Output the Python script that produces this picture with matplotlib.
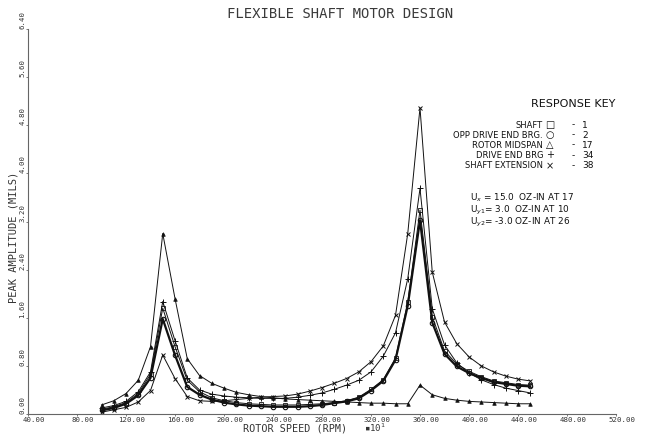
import matplotlib
matplotlib.use("Agg")
import matplotlib.pyplot as plt
from matplotlib.transforms import ScaledTranslation

# rotor speed (RPM x 10)
speed = [100, 110, 120, 130, 140, 150, 160, 170, 180, 190, 200, 210,
         220, 230, 240, 250, 260, 270, 280, 290, 300, 310, 320, 330,
         340, 350, 360, 370, 380, 390, 400, 410, 420, 430, 440, 450]

# peak amplitude (mils) per station
shaft = [0.08, 0.12, 0.19, 0.34, 0.66, 1.76, 1.12, 0.56, 0.37, 0.27, 0.22, 0.19,
         0.17, 0.16, 0.15, 0.15, 0.15, 0.16, 0.17, 0.19, 0.22, 0.28, 0.41, 0.57,
         0.93, 1.86, 3.39, 1.62, 1.05, 0.83, 0.71, 0.62, 0.55, 0.52, 0.49, 0.48]
opp_drive = [0.06, 0.10, 0.17, 0.31, 0.60, 1.58, 0.98, 0.45, 0.32, 0.24, 0.19, 0.16,
             0.14, 0.13, 0.12, 0.12, 0.12, 0.13, 0.15, 0.18, 0.21, 0.26, 0.39, 0.55,
             0.90, 1.80, 3.22, 1.52, 1.00, 0.79, 0.68, 0.60, 0.53, 0.50, 0.47, 0.46]
rotor_mid = [0.15, 0.22, 0.34, 0.56, 1.12, 3.00, 1.92, 0.92, 0.64, 0.51, 0.43, 0.36,
             0.32, 0.29, 0.27, 0.25, 0.24, 0.23, 0.22, 0.21, 0.20, 0.19, 0.18, 0.18,
             0.17, 0.17, 0.48, 0.32, 0.26, 0.23, 0.21, 0.20, 0.19, 0.18, 0.17, 0.17]
drive_end = [0.10, 0.14, 0.21, 0.37, 0.70, 1.87, 1.22, 0.60, 0.40, 0.33, 0.30, 0.28,
             0.27, 0.26, 0.26, 0.26, 0.28, 0.31, 0.35, 0.41, 0.48, 0.56, 0.70, 0.96,
             1.35, 2.25, 3.75, 1.75, 1.15, 0.85, 0.68, 0.57, 0.49, 0.43, 0.39, 0.35]
shaft_ext = [0.03, 0.07, 0.11, 0.20, 0.39, 0.98, 0.59, 0.29, 0.22, 0.21, 0.22, 0.24,
             0.26, 0.28, 0.29, 0.30, 0.33, 0.38, 0.44, 0.51, 0.59, 0.70, 0.87, 1.13,
             1.64, 3.00, 5.09, 2.36, 1.53, 1.17, 0.95, 0.80, 0.70, 0.63, 0.58, 0.55]

xticks = [40, 80, 120, 160, 200, 240, 280, 320, 360, 400, 440, 480, 520]
yticks = [0.0, 0.8, 1.6, 2.4, 3.2, 4.0, 4.8, 5.6, 6.4]

key_names = ["SHAFT", "OPP DRIVE END BRG.", "ROTOR MIDSPAN", "DRIVE END BRG", "SHAFT EXTENSION"]
key_syms = ["\u25a1", "\u25cb", "\u25b3", "+", "\u00d7"]
key_nums = ["1", "2", "17", "34", "38"]

mono = "DejaVu Sans Mono"
ink = "#111111"

fig = plt.figure(figsize=(6.55, 4.34), dpi=100)
ax = fig.add_axes([28/655, 20/434, 588/655, 385/434])

ax.plot(speed, shaft, color=ink, lw=0.7, marker="s", ms=3, mfc="none", mew=0.6)
ax.plot(speed, opp_drive, color=ink, lw=1.6, marker="o", ms=3.2, mfc="none", mew=0.8)
ax.plot(speed, rotor_mid, color=ink, lw=0.7, marker="^", ms=2.6, mew=0.5)
ax.plot(speed, drive_end, color=ink, lw=0.7, marker="+", ms=4, mew=0.7)
ax.plot(speed, shaft_ext, color=ink, lw=0.7, marker="x", ms=3.2, mew=0.7)

ax.set_xlim(40, 520)
ax.set_ylim(0, 6.4)
for s in ["top", "right"]:
    ax.spines[s].set_visible(False)
for s in ["left", "bottom"]:
    ax.spines[s].set_color("#666666")
    ax.spines[s].set_linewidth(0.8)

ax.set_xticks(xticks)
ax.set_xticklabels(["%.2f" % v for v in xticks], fontsize=5.3, family=mono, color="#333333")
ax.set_yticks(yticks)
ax.set_yticklabels(["%.2f" % v for v in yticks], fontsize=5.3, family=mono, color="#333333")
ax.tick_params(direction="out", length=1.5, width=0.6, color="#666666", pad=0.5)

shift = ScaledTranslation(6/100, 0, fig.dpi_scale_trans)
for lab in ax.get_xticklabels():
    lab.set_transform(lab.get_transform() + shift)
for lab in ax.get_yticklabels():
    lab.set_rotation(90)
    lab.set_va("bottom")

fig.text(340/655, 1 - 14/434, "FLEXIBLE SHAFT MOTOR DESIGN", ha="center", va="center",
         fontsize=10, family=mono, color="#3a3a3a")
fig.text(295/655, 1 - 428.5/434, "ROTOR SPEED (RPM)", ha="center", va="center",
         fontsize=7.3, family=mono, color="#333333")
fig.text(364/655, 1 - 428/434, "\u25aa10$^{1}$", ha="left", va="center",
         fontsize=6.5, family=mono, color="#333333")
fig.text(14/655, 1 - 237/434, "PEAK AMPLITUDE (MILS)", ha="center", va="center",
         rotation=90, fontsize=7.5, family=mono, color="#333333")

# response key
fig.text(573/655, 1 - 104/434, "RESPONSE KEY", ha="center", va="center",
         fontsize=8, color=ink)
rows = [125, 135, 145, 155.5, 166]
for name, sym, num, ry in zip(key_names, key_syms, key_nums, rows):
    yy = 1 - ry/434
    fig.text(543/655, yy, name, ha="right", va="center", fontsize=6, color=ink)
    fig.text(550/655, yy, sym, ha="center", va="center", fontsize=7, color=ink)
    fig.text(573/655, yy, "-", ha="center", va="center", fontsize=6.5, color=ink)
    fig.text(582/655, yy, num, ha="left", va="center", fontsize=6.5, color=ink)

notes = ["U$_x$ = 15.0  OZ-IN AT 17", "U$_{y1}$= 3.0  OZ-IN AT 10", "U$_{y2}$= -3.0 OZ-IN AT 26"]
for i, note in enumerate(notes):
    fig.text(470/655, 1 - (198 + 12*i)/434, note, ha="left", va="center",
             fontsize=6.4, color=ink)

fig.savefig("out.png", dpi=100)
